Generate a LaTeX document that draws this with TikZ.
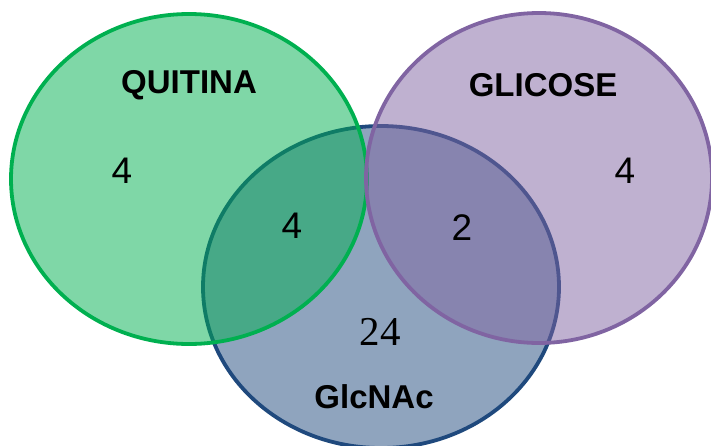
\documentclass[tikz,border=0pt]{standalone}
\usepackage{fontspec}
\setmainfont{Liberation Sans}
\newfontfamily\serifnum{Liberation Serif}
\begin{document}
\begin{tikzpicture}[x=1pt,y=-1pt,
  setfill/.style={fill opacity=0.5, draw opacity=1, line width=3.8pt},
  title/.style={font=\fontsize{33}{33}\selectfont\bfseries, inner sep=0pt},
  num/.style={font=\fontsize{37}{37}\selectfont, inner sep=0pt}]
\definecolor{gr}{HTML}{00B050}
\definecolor{pu}{HTML}{8064A2}
\definecolor{bl}{HTML}{1F497D}
\path[use as bounding box] (0,0) rectangle (711,445);
\clip (0,0) rectangle (711,445);
% GlcNAc set
\path[setfill, fill=bl, draw=bl] (381,287) ellipse [x radius=178, y radius=161];
% QUITINA set
\path[setfill, fill=gr, draw=gr] (189,179) ellipse [x radius=178, y radius=165];
% GLICOSE set
\path[setfill, fill=pu, draw=pu] (539,178) ellipse [x radius=173, y radius=165];
% labels
\node[title] (quitina) at (189,85) {QUITINA};
\node[title] (glicose) at (543,85) {GLICOSE};
\node[title] (glcnac) at (374,397) {GlcNAc};
\node[num] (q) at (122,171) {4};
\node[num] (qg) at (292,226) {4};
\node[num] (gb) at (462,228) {2};
\node[num] (g) at (625,171) {4};
\node[inner sep=0pt, font=\fontsize{41}{41}\selectfont\serifnum] (b) at (380,332) {24};
\end{tikzpicture}
\end{document}
